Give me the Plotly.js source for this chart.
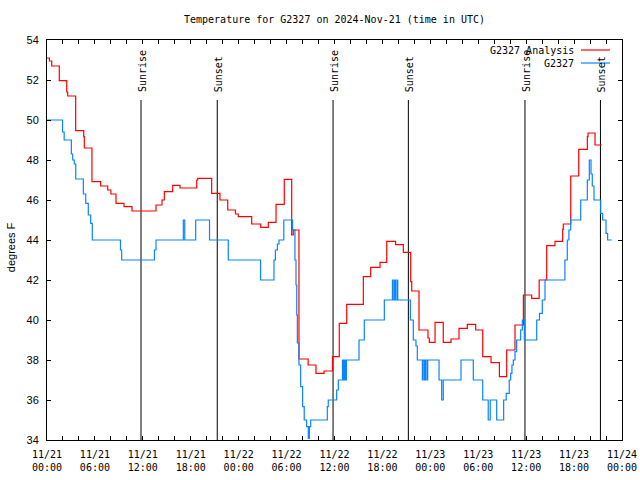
<!DOCTYPE html>
<html>
<head>
<meta charset="utf-8">
<script src="https://cdn.plot.ly/plotly-3.0.1.min.js"></script>
<style>
  html, body { margin: 0; padding: 0; background: #fff; }
  #chart { width: 640px; height: 480px; }
</style>
</head>
<body>
<div id="chart"></div>
<script>
// Hours after 2024-11-21 00:00 UTC and temperatures (degrees F)
const redHours = [0.00, 0.30, 0.59, 1.54, 2.47, 2.59, 3.59, 4.60, 4.67, 5.63, 6.72, 7.60, 8.00, 8.64, 9.64, 10.64,
  13.65, 14.40, 14.69, 15.74, 16.65, 18.75, 18.87, 20.62, 21.66, 22.63, 23.60, 23.95, 25.63, 26.76, 27.71, 28.68,
  29.71, 30.64, 30.84, 31.55, 32.70, 33.68, 34.69, 35.75, 36.60, 37.53, 39.61, 40.53, 41.70, 42.54, 43.65, 44.62,
  45.54, 45.67, 46.58, 47.70, 47.87, 48.59, 49.62, 50.59, 51.59, 52.63, 53.68, 54.56, 55.60, 56.65, 57.56, 58.60,
  59.65, 60.69, 61.63, 62.57, 63.61, 64.57, 64.65, 65.58, 66.58, 67.66, 67.75, 68.62, 69.46];
const redTemps = [53.10, 52.95, 52.70, 51.97, 51.40, 51.20, 49.47, 49.17, 48.60, 46.92, 46.70, 46.50, 46.30, 45.83, 45.67, 45.45,
  45.75, 46.00, 46.42, 46.73, 46.60, 47.00, 47.08, 46.33, 46.00, 45.50, 45.30, 45.17, 44.80, 44.63, 44.88, 45.78,
  47.03, 44.25, 44.50, 38.05, 37.75, 37.33, 37.45, 38.17, 39.83, 40.78, 42.17, 42.63, 42.88, 43.93, 43.77, 43.38,
  41.92, 41.45, 39.50, 39.10, 38.88, 39.88, 38.88, 39.05, 39.58, 39.78, 39.50, 38.17, 37.87, 37.17, 38.50, 39.75,
  41.25, 41.08, 42.00, 43.72, 43.93, 44.53, 44.80, 47.20, 48.53, 49.17, 49.35, 48.75, 48.75];

const blueHours = [0.00, 1.95, 2.15, 3.05, 3.22, 3.42, 3.60, 4.55, 4.85, 5.17, 5.47, 5.67, 9.20, 9.35, 13.45, 13.65,
  17.07, 17.25, 18.62, 20.35, 22.70, 26.75, 28.42, 28.60, 28.85, 29.05, 29.65, 30.75, 31.05, 31.18, 31.27, 31.35,
  31.55, 31.76, 32.01, 32.21, 32.51, 32.72, 32.85, 33.02, 35.10, 35.22, 36.27, 36.48, 37.00, 37.12, 37.25, 37.38,
  37.50, 39.07, 39.73, 42.24, 43.25, 43.35, 43.53, 43.63, 43.82, 43.92, 45.50, 45.87, 46.20, 46.37, 47.00, 47.10,
  47.28, 47.38, 47.57, 47.67, 49.09, 49.42, 49.62, 51.84, 53.38, 54.56, 55.25, 55.50, 56.31, 57.18, 57.50, 57.88,
  58.06, 58.22, 58.39, 58.60, 58.81, 59.31, 59.52, 59.77, 61.32, 61.67, 62.02, 62.36, 64.85, 65.15, 65.35, 65.58,
  66.83, 67.66, 67.91, 68.12, 68.28, 68.49, 69.33, 69.58, 70.00, 70.20, 70.71];
const blueTemps = [50.0, 49.4, 49.0, 48.3, 48.0, 47.8, 47.05, 46.3, 45.83, 45.25, 44.83, 44.0, 43.5, 43.0, 43.5, 44.0,
  45.0, 44.0, 45.0, 44.0, 43.0, 42.0, 43.0, 43.5, 43.8, 44.0, 45.0, 44.5, 43.0, 41.75, 40.25, 38.85,
  37.75, 36.67, 35.67, 35.0, 34.67, 34.08, 34.67, 35.0, 35.67, 36.0, 36.5, 37.0, 38.0, 37.0, 38.0, 37.0,
  38.0, 39.0, 40.0, 41.0, 42.0, 41.0, 42.0, 41.0, 42.0, 41.0, 40.0, 39.0, 38.7, 38.0, 37.0, 38.0,
  37.0, 38.0, 37.0, 38.0, 37.0, 36.0, 37.0, 38.0, 37.0, 36.0, 35.0, 36.0, 35.0, 36.0, 36.33, 37.0,
  37.33, 37.75, 38.0, 38.42, 39.0, 39.5, 40.0, 39.0, 40.0, 40.33, 41.0, 42.0, 43.0, 44.0, 44.5, 45.0,
  46.0, 47.0, 48.0, 47.3, 46.7, 46.0, 45.33, 45.0, 44.33, 44.0, 44.0];

const sunHours = [11.77, 21.32, 35.82, 45.25, 59.85, 69.30];
const sunLabels = ["Sunrise", "Sunset", "Sunrise", "Sunset", "Sunrise", "Sunset"];
const sunLineTop = 51.0;

const seriesNames = ["G2327 Analysis", "G2327"];
const seriesColors = ["#ff0000", "#0a84ff"];

const base = Date.UTC(2024, 10, 21, 0, 0, 0);
const toMs = h => base + h * 3600000;

const mono = "DejaVu Sans Mono, Liberation Mono, monospace";
const sans = "Liberation Sans, Arial, sans-serif";

// vertical sunrise/sunset lines as a trace
const sunX = [], sunY = [];
sunHours.forEach(h => { sunX.push(toMs(h), toMs(h), null); sunY.push(34, sunLineTop, null); });

const traces = [
  { x: sunX, y: sunY, mode: "lines", line: { color: "#000", width: 1 }, hoverinfo: "skip", showlegend: false },
  { x: redHours.map(toMs), y: redTemps, mode: "lines", name: seriesNames[0],
    line: { color: seriesColors[0], width: 1.2, shape: "hv" }, showlegend: false },
  { x: blueHours.map(toMs), y: blueTemps, mode: "lines", name: seriesNames[1],
    line: { color: seriesColors[1], width: 1.2, shape: "hv" }, showlegend: false }
];

const annotations = sunHours.map((h, i) => ({
  x: toMs(h), y: sunLineTop + 0.35, xref: "x", yref: "y", text: sunLabels[i],
  textangle: -90, showarrow: false, xanchor: "center", yanchor: "bottom", xshift: 1,
  borderpad: 0, font: { family: mono, size: 10, color: "#000" }
}));

// y-axis label
annotations.push({
  x: -0.0626, y: 0.482, xref: "paper", yref: "paper", text: "degrees F", textangle: -90,
  showarrow: false, xanchor: "center", yanchor: "middle", font: { family: sans, size: 11, color: "#000" }
});

// gnuplot-style key: text then sample line
const keyY = [0.975, 0.9425];
const shapes = [];
seriesNames.forEach((n, i) => {
  annotations.push({
    x: 0.9183, y: keyY[i], xref: "paper", yref: "paper", text: n, showarrow: false,
    xanchor: "right", yanchor: "middle", borderpad: 0, font: { family: mono, size: 10, color: "#000" }
  });
  shapes.push({
    type: "line", xref: "paper", yref: "paper", x0: 0.9287, x1: 0.9791, y0: keyY[i], y1: keyY[i],
    line: { color: seriesColors[i], width: 1.2 }
  });
});

const layout = {
  width: 640, height: 480,
  margin: { l: 47, r: 18, t: 40, b: 40, pad: 0 },
  paper_bgcolor: "#fff", plot_bgcolor: "#fff",
  title: {
    text: "Temperature for G2327 on 2024-Nov-21 (time in UTC)",
    font: { family: mono, size: 10, color: "#000" },
    x: 0.5, xref: "paper", y: 1 - 19 / 480, yref: "container", yanchor: "middle"
  },
  xaxis: {
    type: "date", range: [base, toMs(72)],
    tickmode: "linear", tick0: base, dtick: 6 * 3600000,
    tickformat: "%m/%d<br>%H:%M",
    ticks: "inside", ticklen: 4, tickcolor: "#000", tickwidth: 1,
    minor: { dtick: 2 * 3600000, tick0: base, ticks: "inside", ticklen: 4, tickcolor: "#000", showgrid: false },
    showline: true, linecolor: "#000", linewidth: 1, mirror: "ticks",
    showgrid: false, zeroline: false,
    tickfont: { family: mono, size: 10, color: "#000" },
    ticklabelstandoff: 5
  },
  yaxis: {
    range: [34, 54], dtick: 2, tick0: 34,
    ticks: "inside", ticklen: 4, tickcolor: "#000", tickwidth: 1,
    showline: true, linecolor: "#000", linewidth: 1, mirror: "ticks",
    showgrid: false, zeroline: false,
    tickfont: { family: sans, size: 11, color: "#000" },
    ticklabelstandoff: 5
  },
  showlegend: false,
  annotations: annotations,
  shapes: shapes
};

Plotly.newPlot("chart", traces, layout, { staticPlot: true, displayModeBar: false });
</script>
</body>
</html>
